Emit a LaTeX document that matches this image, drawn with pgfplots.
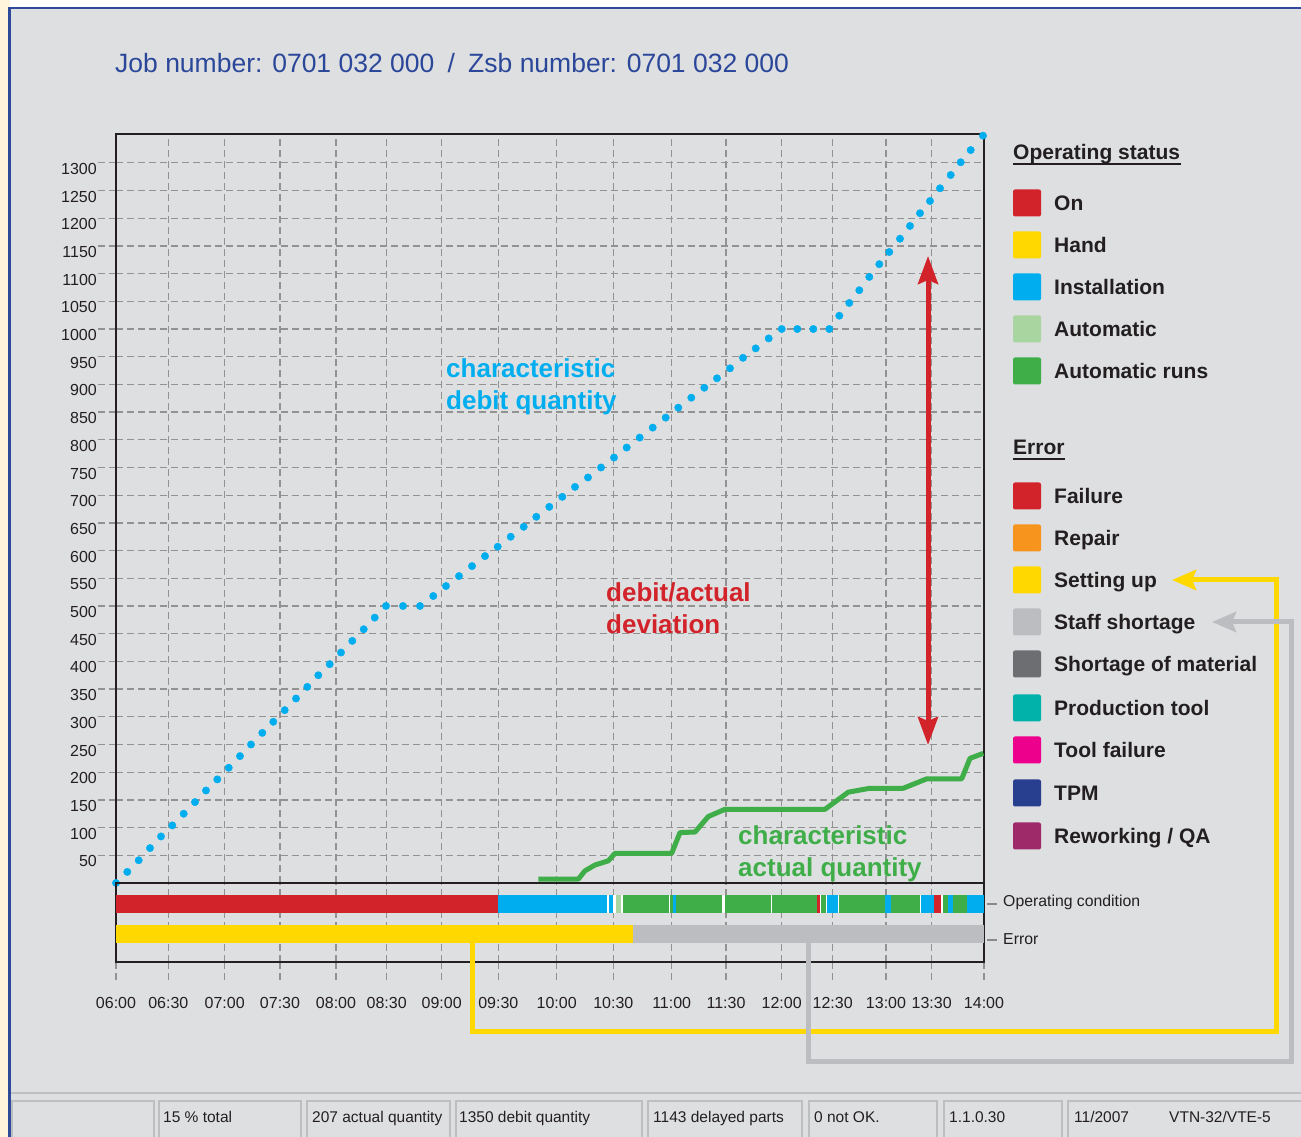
\documentclass[border=0pt]{standalone}
\usepackage{pgfplots}
\pgfplotsset{compat=1.18}
\usepackage{fontspec}
\setmainfont{Liberation Sans}
\usetikzlibrary{arrows.meta}
\definecolor{bggray}{HTML}{DEDFE1}
\definecolor{cream}{HTML}{FFF4DC}
\definecolor{borderblue}{HTML}{2E4A9A}
\definecolor{titleblue}{HTML}{2B479A}
\definecolor{framecol}{HTML}{231F20}
\definecolor{textcol}{HTML}{231F20}
\definecolor{gridgray}{HTML}{929292}
\definecolor{dotblue}{HTML}{00AEEF}
\definecolor{cred}{HTML}{D2232A}
\definecolor{cyellow}{HTML}{FFD800}
\definecolor{cgreen}{HTML}{3FAE49}
\definecolor{clgreen}{HTML}{A8D5A0}
\definecolor{cgray}{HTML}{BCBDC0}
\definecolor{corange}{HTML}{F7941D}
\definecolor{cdgray}{HTML}{6D6E71}
\definecolor{cteal}{HTML}{00B2A9}
\definecolor{cmagenta}{HTML}{EC008C}
\definecolor{cnavy}{HTML}{283E8F}
\definecolor{cplum}{HTML}{9E2A6A}
\definecolor{cellgray}{HTML}{BDBEC0}
\definecolor{tickgray}{HTML}{8A8A8A}
\newcommand{\opseg}[3]{\addplot[draw=none, fill=#3, forget plot] coordinates {(#1,49) (#2,49) (#2,67) (#1,67)} -- cycle;}
\newcommand{\erseg}[3]{\addplot[draw=none, fill=#3, forget plot] coordinates {(#1,19) (#2,19) (#2,37) (#1,37)} -- cycle;}
\newcommand{\fs}[1]{\fontsize{#1}{#1}\selectfont}
\begin{document}
\begin{tikzpicture}[x=1pt,y=1pt]
\useasboundingbox (0,0) rectangle (1301,1137);
\fill[white] (0,0) rectangle (1301,1137);
\fill[cream] (0,0) rectangle (10,1137);
\fill[bggray] (10,0) rectangle (1301,1129);
\draw[borderblue, line width=2.7pt] (9.7,0) -- (9.7,1129) -- (1301,1129);
\coordinate (mainSW) at (116,254);
\coordinate (lowSW) at (116,175);

% title
\node[anchor=base west, inner sep=0pt, text=titleblue, font=\fs{26.5}] at (115,1064)
  {Job number: 0701 032 000\hspace{0.5em}/\hspace{0.5em}Zsb number: 0701 032 000};

% main axis
\begin{axis}[
  at={(mainSW)}, anchor=south west, scale only axis,
  width=868pt, height=749pt,
  xmin=116, xmax=984, ymin=0, ymax=1352,
  xtick={116,168.3,224.7,280,336,386.7,441.7,498.3,556.7,613.3,671.7,726,781.7,832.7,886,931.7,984},
  xticklabels={}, xtick style={draw=none},
  ytick={50,100,...,1300},
  xmajorgrids, ymajorgrids,
  grid style={gridgray, line width=1.3pt, dash pattern=on 7pt off 4pt},
  axis line style={framecol, line width=2.5pt},
  tick align=outside, ytick pos=left, major tick length=18pt,
  ytick style={gridgray, line width=1.3pt, dash pattern=on 7pt off 4pt},
  yticklabel style={font=\fs{16}, text=textcol, anchor=east, yshift=-6pt, inner sep=1pt},
  /pgf/number format/assume math mode=true, /pgf/number format/1000 sep={},
  clip=false,
]
\addplot[only marks, mark=*, mark size=3.7pt, color=dotblue] coordinates {
(116,0) (127.3,20) (138.7,41) (150,63) (161,84) (172.3,104) (183.7,125) (195,146)
(206,167) (217.3,187) (228.7,208) (240,229) (251,250) (262.3,271) (273.3,291)
(284.7,312) (296,333) (307.3,354) (318.3,375) (329.7,395) (341,416) (352.3,437)
(363.7,458) (374.7,479) (386,500) (403,500) (420,500) (433.3,518) (446,536)
(459,554) (472,572) (485,590) (497.7,607) (510.7,625) (523.7,643) (536.3,661)
(549.3,679) (562.3,697) (575,715) (588,732) (601,750) (614,768) (626.7,786)
(639.7,804) (652.7,822) (665.7,840) (678.3,858) (691.3,876) (704.3,894) (717,911)
(730,929) (743,948) (755.7,965) (768.7,983) (781.7,1000) (797.3,1000) (813.3,1000)
(829.3,1000) (839.3,1024) (849.3,1047) (859.3,1070) (869.3,1094) (879.3,1117)
(889.3,1139) (900,1163) (910,1186) (920,1209) (930,1231) (940,1254) (950.7,1278)
(960.7,1301) (970.7,1323) (983,1349)
};
\addplot[no marks, line width=5pt, color=cgreen, line join=round] coordinates {
(538.3,7) (578.3,7) (585,22) (595,32.5) (608.3,40) (615,53.6) (671.7,53.6)
(680,91) (695,92) (708.3,120) (725,133) (825,133) (848.3,164) (870,171)
(903.3,171) (926.7,188) (961.7,188) (970,225) (983.3,234)
};
\end{axis}

% lower status axis
\begin{axis}[
  at={(lowSW)}, anchor=south west, scale only axis,
  width=868pt, height=79pt,
  xmin=116, xmax=984, ymin=0, ymax=79,
  xtick={116,168.3,224.7,280,336,386.7,441.7,498.3,556.7,613.3,671.7,726,781.7,832.7,886,931.7,984},
  xticklabels={06:00,06:30,07:00,07:30,08:00,08:30,09:00,09:30,10:00,10:30,11:00,11:30,12:00,12:30,13:00,13:30,14:00},
  ytick=\empty,
  xmajorgrids,
  grid style={gridgray, line width=1.3pt, dash pattern=on 7pt off 4pt},
  axis line style={framecol, line width=2.5pt},
  tick align=outside, xtick pos=left, major tick length=18pt,
  xtick style={gridgray, line width=1.3pt, dash pattern=on 7pt off 4pt},
  xticklabel style={font=\fs{16}, text=textcol, anchor=north, yshift=-14pt},
  clip=false,
]
\opseg{116}{984}{white}
\opseg{116}{498.3}{cred}
\opseg{498.3}{607.3}{dotblue}
\opseg{609}{613.3}{dotblue}
\opseg{615.7}{621}{clgreen}
\opseg{622.7}{669}{cgreen}
\opseg{670}{673.3}{cgreen}
\opseg{673.3}{675.7}{dotblue}
\opseg{675.7}{721.7}{cgreen}
\opseg{724.7}{770.7}{cgreen}
\opseg{772}{816.7}{cgreen}
\opseg{816.7}{820}{cred}
\opseg{821}{826}{cgreen}
\opseg{827}{837.7}{dotblue}
\opseg{839}{885}{cgreen}
\opseg{885}{891}{dotblue}
\opseg{891}{920}{cgreen}
\opseg{921}{933.7}{dotblue}
\opseg{933.7}{941}{cred}
\opseg{942.7}{947.7}{cgreen}
\opseg{947.7}{952.7}{dotblue}
\opseg{952.7}{967}{cgreen}
\opseg{967}{984}{dotblue}
\erseg{116}{633}{cyellow}
\erseg{633}{984}{cgray}
\end{axis}

% row labels
\draw[tickgray, line width=1.5pt] (987,233) -- (997,233);
\draw[tickgray, line width=1.5pt] (987,197) -- (997,197);
\node[anchor=base west, inner sep=0pt, text=textcol, font=\fs{15.8}] at (1003,230) {Operating condition};
\node[anchor=base west, inner sep=0pt, text=textcol, font=\fs{15.8}] at (1003,192) {Error};

% annotations
\node[anchor=base west, inner sep=0pt, text=dotblue, font=\fs{26}\bfseries] at (446,759) {characteristic};
\node[anchor=base west, inner sep=0pt, text=dotblue, font=\fs{26}\bfseries] at (446,727) {debit quantity};
\node[anchor=base west, inner sep=0pt, text=cred, font=\fs{26}\bfseries] at (606,535) {debit/actual};
\node[anchor=base west, inner sep=0pt, text=cred, font=\fs{26}\bfseries] at (606,503) {deviation};
\node[anchor=base west, inner sep=0pt, text=cgreen, font=\fs{26}\bfseries] at (738,292) {characteristic};
\node[anchor=base west, inner sep=0pt, text=cgreen, font=\fs{26}\bfseries] at (738,260) {actual quantity};
\draw[cred, line width=5pt, {Stealth[length=28pt,width=20pt,inset=4pt]}-{Stealth[length=28pt,width=20pt,inset=4pt]}] (928,881) -- (928,392);

% legend
\node[anchor=base west, inner sep=0pt, text=textcol, font=\fs{21}\bfseries] at (1013,977) {Operating status};
\draw[textcol, line width=1.5pt] (1013,973) -- (1181,973);
\node[anchor=base west, inner sep=0pt, text=textcol, font=\fs{21}\bfseries] at (1013,682) {Error};
\draw[textcol, line width=1.5pt] (1013,678) -- (1065,678);
\foreach \yc/\col/\txt in {203/cred/On, 245/cyellow/Hand, 287/dotblue/Installation, 329/clgreen/Automatic, 371/cgreen/{Automatic runs},
  496/cred/Failure, 538/corange/Repair, 580/cyellow/{Setting up}, 622/cgray/{Staff shortage}, 664/cdgray/{Shortage of material},
  708/cteal/{Production tool}, 750/cmagenta/{Tool failure}, 793/cnavy/TPM, 836/cplum/{Reworking / QA}} {
  \fill[\col, rounded corners=2pt] (1013,{1137-\yc-13.5}) rectangle (1041,{1137-\yc+13.5});
  \node[anchor=base west, inner sep=0pt, text=textcol, font=\fs{21}\bfseries] at (1054,{1137-\yc-7.5}) {\txt};
}

% connectors
\draw[cyellow, line width=5pt, line join=miter, -{Stealth[length=24pt,width=20pt,inset=4pt]}] (472,194) -- (472,105) -- (1276,105) -- (1276,557) -- (1172,557);
\draw[cgray, line width=5pt, line join=miter, -{Stealth[length=24pt,width=20pt,inset=4pt]}] (808,194) -- (808,75) -- (1291,75) -- (1291,515) -- (1212,515);

% status bar
\draw[cellgray, line width=2pt] (11,44) -- (1301,44);
\foreach \a/\b in {12/154, 159/301, 307/450, 456/642, 648/802, 809/937, 944/1062, 1068/1310} {
  \draw[cellgray, line width=1.8pt] (\a,-5) -- (\a,36) -- (\b,36) -- (\b,-5);
}
\foreach \xx/\txt in {163/{15 \% total}, 312/{207 actual quantity}, 459/{1350 debit quantity}, 653/{1143 delayed parts},
  814/{0 not OK.}, 949/{1.1.0.30}, 1074/{11/2007}, 1169/{VTN-32/VTE-5}} {
  \node[anchor=base west, inner sep=0pt, text=textcol, font=\fs{15.5}] at (\xx,14) {\txt};
}
\end{tikzpicture}
\end{document}
